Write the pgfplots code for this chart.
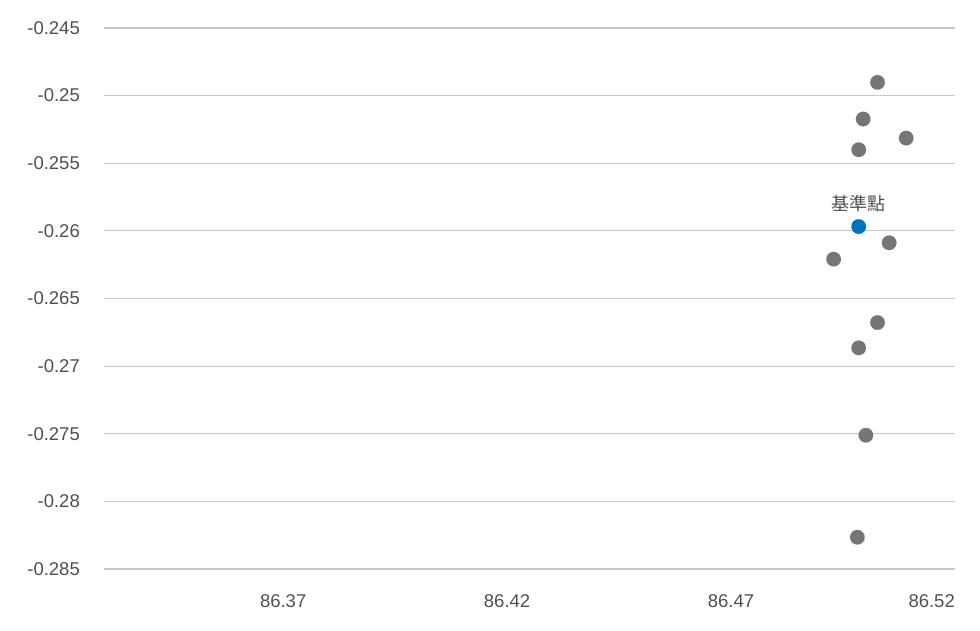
\documentclass[border=0pt]{standalone}
\usepackage{pgfplots}
\pgfplotsset{compat=1.18}
\usepackage{fontspec}
\setmainfont{Liberation Sans}
\newfontfamily\cjk{Noto Sans CJK TC}
\definecolor{gridgray}{HTML}{C8C8C8}
\definecolor{labelgray}{HTML}{505050}
\definecolor{dotgray}{HTML}{767676}
\definecolor{dotblue}{HTML}{0070C0}
\begin{document}
\begin{tikzpicture}
\begin{axis}[
    scale only axis,
    width=851pt, height=541pt,
    xmin=86.33, xmax=86.52,
    ymin=-0.285, ymax=-0.245,
    axis line style={draw=none},
    ymajorgrids,
    grid style={color=gridgray, line width=1.2pt},
    major tick length=0pt,
    xtick={86.37,86.42,86.47},
    extra x ticks={86.52},
    extra x tick style={grid=none, xticklabel style={anchor=north east}},
    ytick={-0.285,-0.28,-0.275,-0.27,-0.265,-0.26,-0.255,-0.25,-0.245},
    tick label style={font=\fontsize{18.5}{22}\selectfont, text=labelgray},
    xticklabel style={anchor=north, inner sep=0pt, yshift=-25pt,
        /pgf/number format/fixed, /pgf/number format/precision=2,
        /pgf/number format/assume math mode=true},
    yticklabel style={anchor=east, inner sep=0pt, xshift=-24pt,
        /pgf/number format/fixed, /pgf/number format/precision=3,
        /pgf/number format/assume math mode=true},
    clip=false,
]
% other points
\addplot[only marks, color=dotgray, mark=*, mark size=7.3pt,
    mark options={draw=dotgray, fill=dotgray, line width=0.1pt}]
coordinates {
(86.5027,-0.24902)
(86.4995,-0.25173)
(86.5091,-0.25314)
(86.4985,-0.25400)
(86.5053,-0.26088)
(86.4929,-0.26209)
(86.5027,-0.26678)
(86.4985,-0.26865)
(86.5001,-0.27511)
(86.4982,-0.28265)
};
% reference point
\addplot[only marks, color=dotblue, mark=*, mark size=7.3pt,
    mark options={draw=dotblue, fill=dotblue, line width=0.1pt},
    nodes near coords={\cjk 基準點},
    every node near coord/.append style={anchor=south, inner sep=0pt, yshift=15pt,
        font=\fontsize{18}{20}\selectfont, text=labelgray}]
coordinates {(86.4985,-0.25968)};
\end{axis}
\pgfresetboundingbox
\path (current axis.south west) ++(-104pt,-61pt) rectangle ++(980pt,630pt);
\end{tikzpicture}
\end{document}
